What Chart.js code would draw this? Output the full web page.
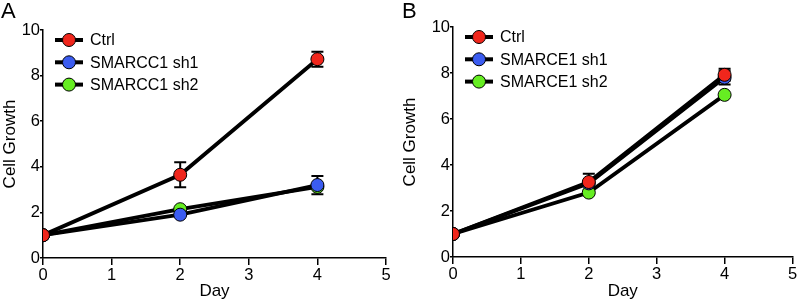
<!DOCTYPE html>
<html>
<head>
<meta charset="utf-8">
<script src="https://cdn.jsdelivr.net/npm/chart.js@4"></script>
<style>
  body { margin: 0; background: #fff; }
  .panel { position: absolute; top: 0; width: 400px; height: 302px; }
  .letter { position: absolute; top: -2px; font: 22px "Liberation Sans", Arial, sans-serif; color: #000; }
</style>
</head>
<body>
<div class="panel" style="left:0"><canvas id="chartA" width="400" height="302"></canvas></div>
<div class="panel" style="left:400px"><canvas id="chartB" width="400" height="302"></canvas></div>
<div class="letter" style="left:1px">A</div>
<div class="letter" style="left:402px">B</div>
<script>
const days = [0, 2, 4];
const colors = ['#f0261c', '#3b5cf0', '#66ee22'];

// panel A
const labelsA = ['Ctrl', 'SMARCC1 sh1', 'SMARCC1 sh2'];
const ctrlA = [1, 3.65, 8.72];
const sh1A = [1, 1.9, 3.2];
const sh2A = [1, 2.14, 3.12];
const ctrlErrA = [0, 0.55, 0.33];
const sh1ErrA = [0, 0, 0.4];
const sh2ErrA = [0, 0, 0];

// panel B
const labelsB = ['Ctrl', 'SMARCE1 sh1', 'SMARCE1 sh2'];
const ctrlB = [1, 3.26, 7.92];
const sh1B = [1, 3.2, 7.8];
const sh2B = [1, 2.8, 7.05];
const ctrlErrB = [0, 0.36, 0.26];
const sh1ErrB = [0, 0, 0.3];
const sh2ErrB = [0, 0, 0];

const font = { family: '"Liberation Sans", Arial, sans-serif', size: 16.5 };
const titleFont = { family: '"Liberation Sans", Arial, sans-serif', size: 17 };

const errorBars = {
  id: 'errorBars',
  beforeDatasetsDraw(chart) {
    const { ctx, scales: { x, y } } = chart;
    ctx.save();
    ctx.strokeStyle = '#000';
    ctx.lineWidth = 2;
    chart.data.datasets.forEach((ds) => {
      ds.data.forEach((p, i) => {
        const e = ds.err[i];
        if (!e) return;
        const px = x.getPixelForValue(p.x);
        const top = y.getPixelForValue(p.y + e);
        const bot = y.getPixelForValue(p.y - e);
        ctx.beginPath();
        ctx.moveTo(px, top); ctx.lineTo(px, bot);
        ctx.moveTo(px - 6, top); ctx.lineTo(px + 6, top);
        ctx.moveTo(px - 6, bot); ctx.lineTo(px + 6, bot);
        ctx.stroke();
      });
    });
    ctx.restore();
  }
};

const lineLegend = {
  id: 'lineLegend',
  afterDraw(chart, args, opts) {
    const { ctx, chartArea } = chart;
    const x0 = chartArea.left + 12;
    ctx.save();
    opts.labels.forEach((txt, i) => {
      const yy = chartArea.top + 10 + i * 22.3;
      ctx.strokeStyle = '#000';
      ctx.lineWidth = 4;
      ctx.beginPath();
      ctx.moveTo(x0, yy); ctx.lineTo(x0 + 28, yy);
      ctx.stroke();
      ctx.beginPath();
      ctx.arc(x0 + 14, yy, 6.5, 0, Math.PI * 2);
      ctx.fillStyle = colors[i];
      ctx.fill();
      ctx.lineWidth = 1;
      ctx.stroke();
      ctx.fillStyle = '#000';
      ctx.font = '16px "Liberation Sans", Arial, sans-serif';
      ctx.textBaseline = 'middle';
      ctx.fillText(txt, x0 + 35, yy + 1);
    });
    ctx.restore();
  }
};

function series(values, errs, color, label, order) {
  return {
    label: label,
    data: days.map((d, i) => ({ x: d, y: values[i] })),
    err: errs,
    order: order,
    borderColor: '#000',
    borderWidth: 3.8,
    pointRadius: 6.5,
    pointHoverRadius: 6.5,
    pointBackgroundColor: color,
    pointBorderColor: '#000',
    pointBorderWidth: 1,
  };
}

function makePanel(id, labels, sets, left, top, right, bottom) {
  new Chart(document.getElementById(id), {
    type: 'line',
    data: {
      datasets: [
        series(sets[0][0], sets[0][1], colors[0], labels[0], 0),
        series(sets[1][0], sets[1][1], colors[1], labels[1], 1),
        series(sets[2][0], sets[2][1], colors[2], labels[2], 2),
      ],
    },
    options: {
      responsive: false,
      animation: false,
      layout: { padding: { top: top, right: right, left: 0, bottom: 0 } },
      plugins: {
        legend: { display: false },
        tooltip: { enabled: false },
        lineLegend: { labels: labels },
      },
      scales: {
        x: {
          type: 'linear',
          min: 0,
          max: 5,
          afterFit: (s) => { s.height = bottom; },
          ticks: { stepSize: 1, color: '#000', font: font, padding: 1 },
          grid: { drawOnChartArea: false, tickLength: 7, color: '#000', lineWidth: 1.5 },
          border: { color: '#000', width: 1.5 },
          title: { display: true, text: 'Day', color: '#000', font: titleFont, padding: { top: 0, bottom: 0 } },
        },
        y: {
          min: 0,
          max: 10,
          afterFit: (s) => { s.width = left; },
          ticks: { stepSize: 2, color: '#000', font: font, padding: 0 },
          grid: { drawOnChartArea: false, tickLength: 3, color: '#000', lineWidth: 1.5 },
          border: { color: '#000', width: 1.5 },
          title: { display: true, text: 'Cell Growth', color: '#000', font: titleFont, padding: 0 },
        },
      },
    },
    plugins: [errorBars, lineLegend],
  });
}

makePanel('chartA', labelsA,
  [[ctrlA, ctrlErrA], [sh1A, sh1ErrA], [sh2A, sh2ErrA]], 43, 30, 14, 44);
makePanel('chartB', labelsB,
  [[ctrlB, ctrlErrB], [sh1B, sh1ErrB], [sh2B, sh2ErrB]], 53, 27, 4, 45);
</script>
</body>
</html>
